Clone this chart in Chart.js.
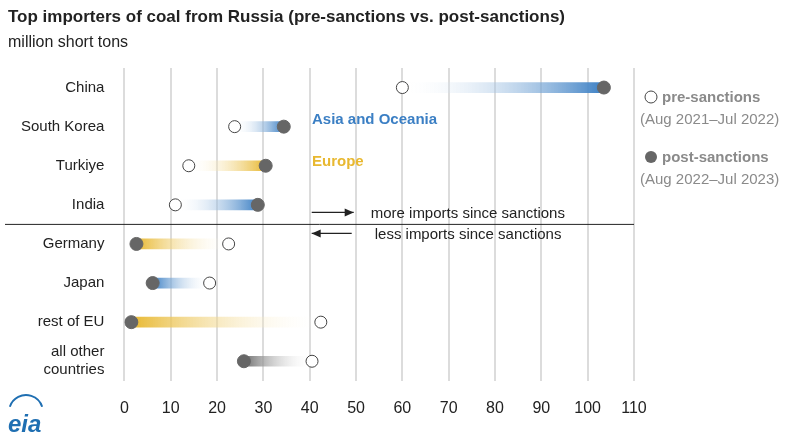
<!DOCTYPE html>
<html><head><meta charset="utf-8">
<script src="https://cdn.jsdelivr.net/npm/chart.js@4"></script>
<style>body{margin:0;background:#fff}#w{width:800px;height:445px}</style>
</head><body><div id="w"><canvas id="c"></canvas></div>
<script>
const categories=['China','South Korea','Turkiye','India','Germany','Japan','rest of EU','all other countries'];
const preSanctions=[60,23.8,13.9,11,22.5,18.4,42.4,40.5];
const postSanctions=[103.5,34.4,30.5,28.8,2.6,6.1,1.5,25.8];
const regions=['asia','asia','europe','asia','europe','asia','europe','other'];
const xTicks=[0,10,20,30,40,50,60,70,80,90,100,110];
const regionColors={asia:'#3b7fc4',europe:'#e8b830',other:'#6e6e6e'};
const F='"Liberation Sans", Arial, sans-serif';

const labels=categories.map(c=>c==='all other countries'?['all other','countries']:c);

const deco={id:'deco',afterDraw(ch){
  const c=ch.ctx,x=ch.scales.x,y=ch.scales.y;
  c.save();
  c.textBaseline='alphabetic';
  c.fillStyle='#222';c.font='bold 17px '+F;c.fillText('Top importers of coal from Russia (pre-sanctions vs. post-sanctions)',8,22);
  c.font='16px '+F;c.fillText('million short tons',8,47);
  const yd=(y.getPixelForValue(3)+y.getPixelForValue(4))/2;
  c.strokeStyle='#222';c.lineWidth=1;c.beginPath();c.moveTo(5,yd);c.lineTo(x.right,yd);c.stroke();
  const ax=x.getPixelForValue(40);
  function arrow(x1,x2,yy){c.beginPath();c.moveTo(x1,yy);c.lineTo(x2,yy);c.stroke();
    const d=Math.sign(x2-x1);c.beginPath();c.moveTo(x2,yy);c.lineTo(x2-d*9,yy-4);c.lineTo(x2-d*9,yy+4);c.closePath();c.fill();}
  c.fillStyle='#222';c.lineWidth=1.3;
  arrow(ax+2,ax+44,yd-12);arrow(ax+42,ax+2,yd+9);
  c.font='15px '+F;c.fillText('more imports since sanctions',ax+61,yd-6);
  c.fillText('less imports since sanctions',ax+65,yd+15);
  c.font='bold 15px '+F;c.fillStyle=regionColors.asia;c.fillText('Asia and Oceania',312,124);
  c.fillStyle=regionColors.europe;c.fillText('Europe',312,166);
  c.lineWidth=1;c.strokeStyle='#444';c.fillStyle='#fff';
  c.beginPath();c.arc(651,97,6,0,7);c.fill();c.stroke();
  c.fillStyle='#666';c.beginPath();c.arc(651,157,6,0,7);c.fill();
  c.font='bold 15px '+F;c.fillStyle='#8a8a8a';c.fillText('pre-sanctions',662,102);c.fillText('post-sanctions',662,162);
  c.font='15px '+F;c.fillText('(Aug 2021\u2013Jul 2022)',640,124);c.fillText('(Aug 2022\u2013Jul 2023)',640,184);
  c.font='italic bold 24px '+F;c.fillStyle='#1f6fb2';c.fillText('eia',8,432);
  c.strokeStyle='#1f6fb2';c.lineWidth=2;c.beginPath();c.arc(26,412,17,Math.PI*1.1,Math.PI*1.9);c.stroke();
  c.restore();
}};

function grad(ctx){
  const ch=ctx.chart,i=ctx.dataIndex;
  if(!ch.chartArea)return regionColors[regions[i]];
  const x=ch.scales.x;
  const g=ch.ctx.createLinearGradient(x.getPixelForValue(preSanctions[i]),0,x.getPixelForValue(postSanctions[i]),0);
  g.addColorStop(0,'rgba(255,255,255,0)');g.addColorStop(1,regionColors[regions[i]]);
  return g;
}

new Chart(document.getElementById('c'),{
  data:{labels,datasets:[
    {type:'bar',data:preSanctions.map((p,i)=>[p,postSanctions[i]]),backgroundColor:grad,barThickness:10,borderSkipped:false,order:3},
    {type:'line',data:preSanctions.map((v,i)=>({x:v,y:i})),showLine:false,pointRadius:6,pointBackgroundColor:'#fff',pointBorderColor:'#444',pointBorderWidth:1,order:1},
    {type:'line',data:postSanctions.map((v,i)=>({x:v,y:i})),showLine:false,pointRadius:6.5,pointBackgroundColor:'#666',pointBorderColor:'#666',order:2}
  ]},
  options:{indexAxis:'y',responsive:true,maintainAspectRatio:false,animation:false,
    layout:{padding:{top:68,right:166,bottom:9,left:9}},
    plugins:{legend:{display:false},tooltip:{enabled:false}},
    scales:{
      x:{type:'linear',min:0,max:110,afterBuildTicks:a=>{a.ticks=xTicks.map(v=>({value:v}))},
        grid:{color:'#dcdcdc',lineWidth:2,drawTicks:false},border:{display:false},
        ticks:{color:'#222',font:{size:16,family:F},padding:18}},
      y:{type:'category',offset:true,grid:{display:false},border:{display:false},
        ticks:{autoSkip:false,color:'#222',font:{size:15,family:F},padding:12}}
    }},
  plugins:[deco]
});
</script></body></html>
